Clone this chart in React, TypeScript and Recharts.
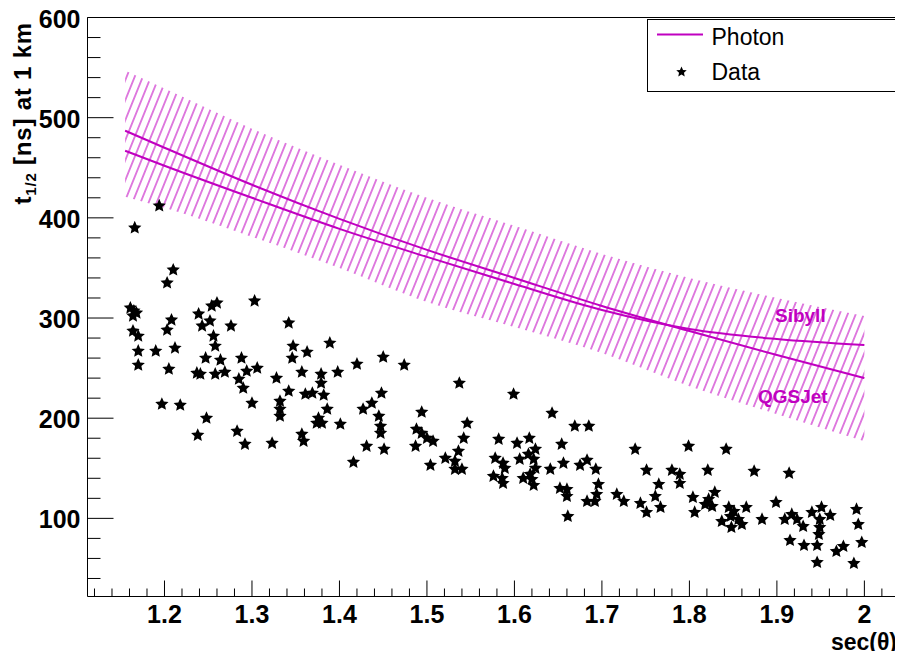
import React from "react";
import {
  ComposedChart,
  XAxis,
  YAxis,
  Area,
  Line,
  Scatter,
  ReferenceArea,
  Legend,
  Customized,
} from "recharts";

// photon expectation (two hadronic models) and its systematic band
const modelSec = [1.155, 1.2, 1.3, 1.4, 1.5, 1.6, 1.7, 1.8, 1.9, 2.0];
const sibyll = [467, 452, 420, 389, 361, 334, 308, 289, 279, 273];
const qgsjet = [487, 470, 433, 399, 368, 340, 312, 287, 263, 240];
const bandHigh = [547, 529, 489, 453, 420, 392, 364, 340, 320, 302];
const bandLow = [421, 410, 381, 350, 316, 291, 265, 232, 204, 177];

// measured events
const dataSec = [
  1.194, 1.166, 1.21, 1.203, 1.303, 1.26, 1.254, 1.161, 1.165, 1.168, 1.164, 1.239, 1.208, 1.252, 1.203, 1.243,
  1.276, 1.342, 1.164, 1.17, 1.256, 1.258, 1.17, 1.19, 1.212, 1.347, 1.247, 1.264, 1.288, 1.346, 1.363, 1.17,
  1.205, 1.237, 1.241, 1.258, 1.269, 1.294, 1.306, 1.285, 1.29, 1.328, 1.357, 1.342, 1.361, 1.332, 1.332, 1.332,
  1.197, 1.218, 1.3, 1.248, 1.238, 1.283, 1.292, 1.323, 1.357, 1.359,
  1.389, 1.379, 1.379, 1.398, 1.42, 1.45, 1.474, 1.537, 1.369, 1.382, 1.448, 1.437, 1.427, 1.386, 1.376, 1.374,
  1.38, 1.401, 1.445, 1.447, 1.447, 1.494, 1.546, 1.431, 1.451, 1.488, 1.494, 1.5, 1.507, 1.487, 1.542, 1.536,
  1.416, 1.504, 1.521, 1.532, 1.532, 1.54,
  1.599, 1.643, 1.669, 1.685, 1.582, 1.603, 1.617, 1.624, 1.616, 1.606, 1.622, 1.654, 1.578, 1.587, 1.589, 1.624,
  1.618, 1.61, 1.62, 1.576, 1.586, 1.587, 1.622, 1.641, 1.656, 1.675, 1.683, 1.693, 1.652, 1.66, 1.66, 1.696,
  1.694, 1.692, 1.683, 1.661, 1.717, 1.725, 1.738, 1.751, 1.765, 1.761, 1.767, 1.751, 1.744, 1.78, 1.789, 1.789,
  1.799,
  1.842, 1.821, 1.874, 1.914, 1.804, 1.806, 1.818, 1.826, 1.829, 1.822, 1.845, 1.851, 1.847, 1.837, 1.856, 1.86,
  1.848, 1.865, 1.883, 1.899, 1.909, 1.917, 1.923, 1.93, 1.915, 1.931, 1.94, 1.951, 1.961, 1.949, 1.949, 1.948,
  1.946, 1.946, 1.968, 1.976, 1.991, 1.993, 1.997, 1.988,
];
const dataT = [
  412, 390, 348, 335, 317, 315, 312, 310, 307, 305, 302, 304, 298, 297, 288, 292,
  292, 295, 287, 282, 282, 272, 267, 267, 270, 272, 260, 258, 260, 260, 266, 253,
  249, 245, 244, 244, 246, 247, 250, 239, 230, 240, 246, 227, 224, 217, 209, 202,
  214, 213, 215, 200, 183, 187, 174, 175, 184, 177,
  275, 244, 235, 246, 254, 261, 253, 235, 225, 223, 225, 215, 209, 209, 200, 195,
  195, 194, 202, 192, 185, 206, 195, 172, 169, 189, 185, 180, 177, 172, 180, 167,
  156, 153, 160, 157, 149, 149,
  224, 205, 192, 192, 179, 175, 180, 169, 164, 159, 159, 174, 160, 155, 150, 150,
  144, 140, 139, 142, 140, 135, 133, 149, 155, 153, 158, 149, 130, 129, 122, 134,
  124, 117, 117, 102, 124, 117, 169, 148, 134, 122, 111, 106, 115, 148, 144, 135,
  172,
  169, 148, 147, 145, 121, 106, 114, 112, 126, 119, 111, 107, 102, 97, 99, 94,
  91, 111, 99, 116, 99, 104, 99, 92, 78, 73, 106, 111, 103, 99, 91, 84,
  73, 56, 67, 72, 109, 94, 76, 55,
];

// axes
const xMajor = [1.2, 1.3, 1.4, 1.5, 1.6, 1.7, 1.8, 1.9, 2.0];
const xMajorLabels = ["1.2", "1.3", "1.4", "1.5", "1.6", "1.7", "1.8", "1.9", "2"];
const yMajor = [100, 200, 300, 400, 500, 600];
const yMajorLabels = ["100", "200", "300", "400", "500", "600"];

const xTicks: number[] = [];
for (let k = 56; k <= 101; k++) xTicks.push(Math.round(k * 2) / 100);
const yTicks: number[] = [];
for (let k = 2; k <= 30; k++) yTicks.push(k * 20);

const MAGENTA = "#c000c0";
const FONT = "'Liberation Sans', Arial, Helvetica, sans-serif";

const model = modelSec.map((x, i) => ({
  x,
  sibyll: sibyll[i],
  qgsjet: qgsjet[i],
  band: [bandLow[i], bandHigh[i]],
}));
const points = dataSec.map((x, i) => ({ x, t: dataT[i] }));

function starPath(cx: number, cy: number, R: number, r: number) {
  let d = "";
  for (let k = 0; k < 10; k++) {
    const rad = k % 2 === 0 ? R : r;
    const a = -Math.PI / 2 + (k * Math.PI) / 5;
    d += (k ? "L" : "M") + (cx + rad * Math.cos(a)).toFixed(2) + "," + (cy + rad * Math.sin(a)).toFixed(2);
  }
  return d + "Z";
}

const Star = (props: any) => {
  const { cx, cy } = props;
  if (cx == null || cy == null) return null;
  return <path d={starPath(cx, cy, 7, 3.3)} fill="#000" />;
};

const XTick = (props: any) => {
  const { x, y, payload } = props;
  const idx = xMajor.findIndex((m) => Math.abs(m - payload.value) < 1e-6);
  const major = idx >= 0;
  return (
    <g>
      <line x1={x} x2={x} y1={y} y2={y - (major ? 16 : 8)} stroke="#000" strokeWidth={1} />
      {major && (
        <text x={x} y={y + 26.5} textAnchor="middle" fontFamily={FONT} fontWeight="bold" fontSize={25} fill="#000">
          {xMajorLabels[idx]}
        </text>
      )}
    </g>
  );
};

const YTick = (props: any) => {
  const { x, y, payload } = props;
  const idx = yMajor.findIndex((m) => Math.abs(m - payload.value) < 1e-6);
  const major = idx >= 0;
  return (
    <g>
      <line x1={x} x2={x + (major ? 26 : 13)} y1={y} y2={y} stroke="#000" strokeWidth={1} />
      {major && (
        <text x={x - 7} y={y + 10} textAnchor="end" fontFamily={FONT} fontWeight="bold" fontSize={25} fill="#000">
          {yMajorLabels[idx]}
        </text>
      )}
    </g>
  );
};

const LegendBox = () => (
  <div style={{ width: 255, height: 73, border: "1px solid #000", boxSizing: "border-box", background: "#fff" }}>
    <svg width={253} height={71}>
      <line x1={9} x2={55} y1={14.5} y2={14.5} stroke={MAGENTA} strokeWidth={2} />
      <text x={63.5} y={25} fontFamily={FONT} fontSize={23} fill="#000">
        Photon
      </text>
      <path d={starPath(33.5, 52, 5.5, 2.6)} fill="#000" />
      <text x={63.5} y={60} fontFamily={FONT} fontSize={23} fill="#000">
        Data
      </text>
    </svg>
  </div>
);

const Titles = () => (
  <g fontFamily={FONT} fontWeight="bold">
    <text transform="rotate(-90)" x={-22} y={23} textAnchor="end" fontSize={24} fill="#000" letterSpacing={0.8}>
      t
      <tspan fontSize={15} dy={5}>
        1/2
      </tspan>
      <tspan dy={-5}> [ns] at 1 km</tspan>
    </text>
    <text x={889} y={650} textAnchor="end" fontSize={23} fill="#000">
      sec(θ)
    </text>
    <text x={767} y={322} fontSize={19} fill={MAGENTA}>
      Sibyll
    </text>
    <text x={750} y={403} fontSize={19} fill={MAGENTA}>
      QGSJet
    </text>
  </g>
);

export default function App() {
  return (
    <div style={{ width: 895, height: 651, marginTop: -8 }}>
      <ComposedChart
        width={895}
        height={659}
        data={model}
        style={{ overflow: "visible" }}
        margin={{ top: 17.5, right: 4.5, bottom: 61.5, left: 78.5 }}
      >
        <defs>
          <pattern id="hatch" patternUnits="userSpaceOnUse" width={7.5} height={10} patternTransform="rotate(22)">
            <line x1={3.75} y1={0} x2={3.75} y2={10} stroke={MAGENTA} strokeWidth={1} />
          </pattern>
        </defs>
        <XAxis
          dataKey="x"
          type="number"
          domain={[1.112, 2.039]}
          allowDataOverflow
          ticks={xTicks}
          interval={0}
          tick={<XTick />}
          tickLine={false}
          axisLine={false}
          tickSize={0}
          tickMargin={0}
          height={1}
        />
        <YAxis
          type="number"
          domain={[22, 600]}
          allowDataOverflow
          ticks={yTicks}
          interval={0}
          tick={<YTick />}
          tickLine={false}
          axisLine={false}
          tickSize={0}
          tickMargin={0}
          width={1}
        />
        <Area
          dataKey="band"
          type="monotone"
          stroke="none"
          fill="url(#hatch)"
          fillOpacity={1}
          isAnimationActive={false}
          legendType="none"
        />
        <Line dataKey="sibyll" type="monotone" stroke={MAGENTA} strokeWidth={2} dot={false} isAnimationActive={false} />
        <Line dataKey="qgsjet" type="monotone" stroke={MAGENTA} strokeWidth={2} dot={false} isAnimationActive={false} />
        <Scatter data={points} dataKey="t" shape={<Star />} isAnimationActive={false} />
        <ReferenceArea
          x1={1.112}
          x2={2.039}
          y1={22}
          y2={600}
          fill="none"
          stroke="#000"
          strokeWidth={1}
          ifOverflow="visible"
        />
        <Legend
          layout="vertical"
          align="center"
          verticalAlign="middle"
          content={<LegendBox />}
          wrapperStyle={{ position: "absolute", left: 639, top: 19, width: 255, height: 73, margin: 0 }}
        />
        <Customized component={<Titles />} />
      </ComposedChart>
    </div>
  );
}
